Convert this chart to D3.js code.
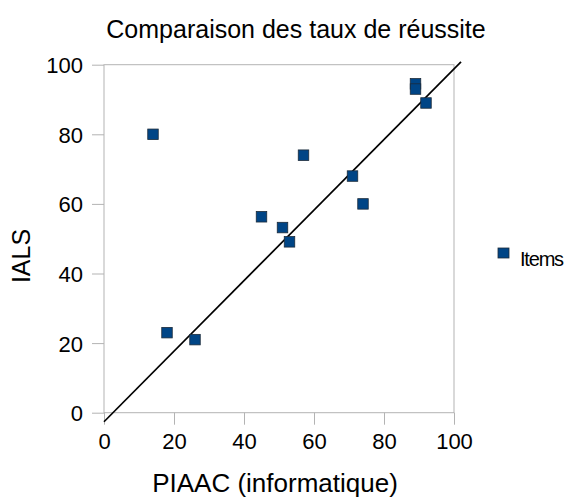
<!DOCTYPE html>
<html>
<head>
<meta charset="UTF-8">
<title>Comparaison des taux de réussite</title>
<script src="https://cdn.jsdelivr.net/npm/d3@7"></script>
<style>
  body { margin: 0; background: #fff; }
  text { font-family: "Liberation Sans", Arial, sans-serif; fill: #000; }
</style>
</head>
<body>
<div id="chart"></div>
<script>
// values
var piaac = [14, 57, 89, 89, 92, 71, 74, 45, 51, 53, 18, 26];
var ials  = [80, 74, 94.5, 93, 89, 68, 60, 56.3, 53.2, 49.1, 23, 21];
var xTicks = [0, 20, 40, 60, 80, 100];
var yTicks = [0, 20, 40, 60, 80, 100];
var lineX = [0, 102];
var lineY = [-2.6, 100.8];

var W = 567, H = 497;
var svg = d3.select("#chart").append("svg").attr("width", W).attr("height", H);

var x = d3.scaleLinear().domain([0, 100]).range([104, 454]);
var y = d3.scaleLinear().domain([0, 100]).range([412.7, 64.7]);

// frame
svg.append("rect")
  .attr("x", x(0)).attr("y", y(100))
  .attr("width", x(100) - x(0)).attr("height", y(0) - y(100))
  .attr("fill", "none").attr("stroke", "#b3b3b3").attr("stroke-width", 1);

var xAxis = svg.append("g").attr("transform", "translate(0," + y(0) + ")")
  .call(d3.axisBottom(x).tickValues(xTicks).tickSize(12).tickPadding(8));
var yAxis = svg.append("g").attr("transform", "translate(" + x(0) + ",0)")
  .call(d3.axisLeft(y).tickValues(yTicks).tickSize(12).tickPadding(9));
[xAxis, yAxis].forEach(function(a){
  a.select(".domain").remove();
  a.selectAll("line").attr("stroke", "#b3b3b3");
  a.selectAll("text").style("font-family", "Liberation Sans, Arial, sans-serif").style("font-size", "22px").attr("fill", "#000");
});
xAxis.selectAll("text").attr("dy", "0.72em");
yAxis.selectAll("text").attr("dy", "0.36em");

// trend line
svg.append("line")
  .attr("x1", x(lineX[0])).attr("y1", y(lineY[0]))
  .attr("x2", x(lineX[1])).attr("y2", y(lineY[1]))
  .attr("stroke", "#000").attr("stroke-width", 1.7);

// points
var pts = piaac.map(function(v, i){ return {x: v, y: ials[i]}; });
var s = 10.5;
svg.selectAll("rect.pt").data(pts).enter().append("rect")
  .attr("class", "pt")
  .attr("x", function(d){ return x(d.x) - s / 2; })
  .attr("y", function(d){ return y(d.y) - s / 2; })
  .attr("width", s).attr("height", s)
  .attr("fill", "#004586").attr("stroke", "#1c2b3a").attr("stroke-width", 0.8);

// title and axis titles
svg.append("text").attr("x", 296).attr("y", 38).attr("text-anchor", "middle")
  .style("font-size", "25px").text("Comparaison des taux de réussite");
svg.append("text").attr("x", 275).attr("y", 492).attr("text-anchor", "middle")
  .style("font-size", "26px").text("PIAAC (informatique)");
svg.append("text").attr("transform", "translate(30,256) rotate(-90)")
  .attr("text-anchor", "middle").style("font-size", "25px").text("IALS");

// legend
svg.append("rect").attr("x", 498).attr("y", 248).attr("width", 11).attr("height", 10)
  .attr("fill", "#004586").attr("stroke", "#1c2b3a").attr("stroke-width", 0.8);
svg.append("text").attr("x", 520).attr("y", 266)
  .style("font-size", "20px").style("letter-spacing", "-1.2px").text("Items");
</script>
</body>
</html>
